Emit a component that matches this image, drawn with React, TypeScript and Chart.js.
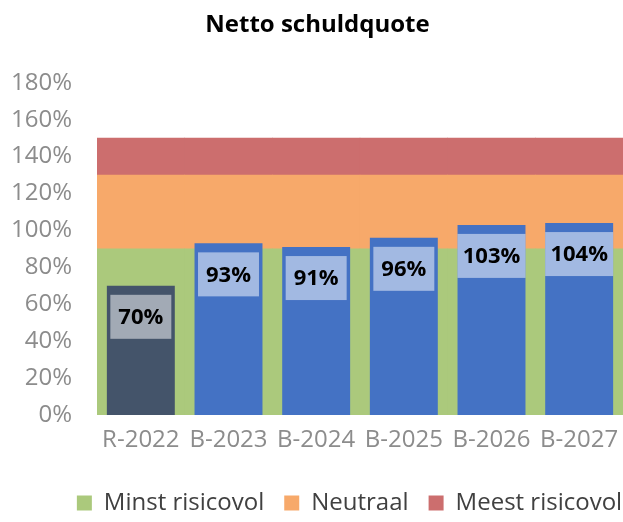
import React, { useEffect, useRef } from "react";
import { Chart, registerables } from "chart.js";

Chart.register(...registerables);

const chartTitle = "Netto schuldquote";
const categories = ["R-2022", "B-2023", "B-2024", "B-2025", "B-2026", "B-2027"];
const schuldquote = [70, 93, 91, 96, 103, 104];
const barColors = ["#44546A", "#4472C4", "#4472C4", "#4472C4", "#4472C4", "#4472C4"];

const bandLabels = ["Minst risicovol", "Neutraal", "Meest risicovol"];
const bandLower = [0, 90, 130];
const bandUpper = [90, 130, 150];
const bandColors = ["#ABC97C", "#F7A96A", "#CC6E6E"];

const yMin = 0;
const yMax = 180;
const yStep = 20;

const FONT = "'Open Sans', 'DejaVu Sans', sans-serif";
const MAIN_INDEX = bandLabels.length;

const valueBoxPlugin = {
  id: "valueBoxes",
  afterLayout(chart: any) {
    if (chart.legend) {
      chart.legend.left += 38;
      chart.legend.right += 38;
      chart.legend.top += 3;
      chart.legend.bottom += 3;
    }
    if (chart.titleBlock) {
      chart.titleBlock.left += 6;
      chart.titleBlock.right += 6;
    }
  },
  afterDatasetsDraw(chart: any) {
    const meta = chart.getDatasetMeta(MAIN_INDEX);
    const ctx = chart.ctx;
    ctx.save();
    ctx.font = `bold 22px ${FONT}`;
    ctx.textAlign = "center";
    ctx.textBaseline = "middle";
    meta.data.forEach((bar: any, i: number) => {
      const text = `${schuldquote[i]}%`;
      const tw = ctx.measureText(text).width;
      const { x, y, width } = bar.getProps(["x", "y", "width"], true);
      const bw = Math.min(tw + 16, width);
      const top = y + 9;
      ctx.fillStyle = "rgba(255,255,255,0.5)";
      ctx.fillRect(x - bw / 2, top, bw, 44);
      ctx.fillStyle = "#000000";
      ctx.fillText(text, x, top + 23);
    });
    ctx.restore();
  },
};

export default function App() {
  const canvasRef = useRef<HTMLCanvasElement | null>(null);

  useEffect(() => {
    if (!canvasRef.current) return;
    const bandDatasets = bandLabels.map((label, b) => ({
      type: "bar" as const,
      label,
      data: categories.map(() => [bandLower[b], bandUpper[b]]),
      backgroundColor: bandColors[b],
      borderColor: bandColors[b],
      borderWidth: 0,
      xAxisID: "x2",
      yAxisID: "y",
      grouped: false,
      barPercentage: 1,
      categoryPercentage: 1,
      order: 1,
    }));
    const chart = new Chart(canvasRef.current, {
      type: "bar",
      data: {
        labels: categories,
        datasets: [
          ...bandDatasets,
          {
            type: "bar" as const,
            label: "Netto schuldquote",
            data: schuldquote,
            backgroundColor: barColors,
            borderWidth: 0,
            xAxisID: "x",
            yAxisID: "y",
            grouped: false,
            barPercentage: 0.775,
            categoryPercentage: 1,
            order: 0,
          },
        ] as any,
      },
      options: {
        responsive: false,
        animation: false,
        layout: { padding: 0 },
        scales: {
          x: {
            type: "category",
            offset: true,
            grid: { display: false, drawTicks: false },
            border: { display: false },
            ticks: { color: "#8C8C8C", font: { family: FONT, size: 24 }, padding: 11 },
            afterFit: (scale: any) => {
              scale.height = 53;
              scale.paddingLeft = 0;
              scale.paddingRight = 0;
            },
          },
          x2: {
            type: "category",
            labels: categories,
            offset: true,
            display: false,
            grid: { display: false },
          },
          y: {
            min: yMin,
            max: yMax,
            grid: { display: false, drawTicks: false },
            border: { display: false },
            ticks: {
              stepSize: yStep,
              color: "#8C8C8C",
              font: { family: FONT, size: 24 },
              padding: 25,
              callback: (v: any) => `${v}%`,
            },
            afterFit: (scale: any) => {
              scale.width = 97;
            },
          },
        },
        plugins: {
          title: {
            display: true,
            text: chartTitle,
            color: "#000000",
            font: { family: FONT, size: 24, weight: "bold" },
            padding: { top: 11, bottom: 43 },
          },
          legend: {
            position: "bottom",
            labels: {
              color: "#404040",
              font: { family: FONT, size: 24 },
              boxWidth: 15,
              boxHeight: 15,
              padding: 20,
              filter: (item: any) => item.datasetIndex < MAIN_INDEX,
            },
          },
          tooltip: { enabled: false },
        },
      } as any,
      plugins: [valueBoxPlugin],
    });
    return () => chart.destroy();
  }, []);

  return (
    <div style={{ position: "absolute", left: 0, top: 0, width: 623, height: 522, background: "#fff" }}>
      <canvas ref={canvasRef} width={623} height={522} />
    </div>
  );
}
